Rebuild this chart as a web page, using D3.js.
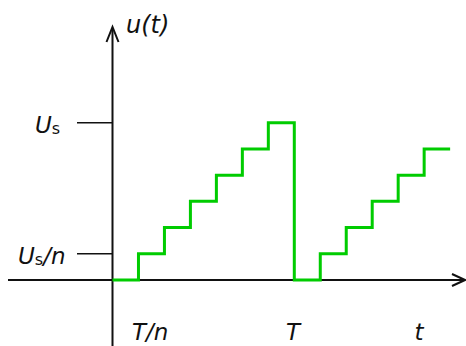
<!DOCTYPE html>
<html>
<head>
<meta charset="utf-8">
<script src="https://cdn.jsdelivr.net/npm/d3@7"></script>
<style>
  html, body { margin: 0; padding: 0; background: #fff; }
  svg { display: block; }
  text { font-family: "DejaVu Sans", sans-serif; font-style: italic; fill: #111; }
</style>
</head>
<body>
<div id="chart"></div>
<script>
// staircase signal, time in units of T/n, level in units of Us/n
const stepTimes = [0, 1, 2, 3, 4, 5, 6, 7, 8, 9, 10, 11, 12, 13]
const stepLevels = [0, 1, 2, 3, 4, 5, 6, 0, 1, 2, 3, 4, 5, 5]

const yTicks = [1, 6]
const yTickLabels = [['U', 's', '/n'], ['U', 's', '']]
const yLabelX = [18, 35]
const xLabelPos = [1.45, 6.95, 11.8]
const xLabels = ['T/n', 'T', 't']

const width = 466
const height = 346

const x = d3.scaleLinear().domain([0, 7]).range([112.5, 294.3])
const y = d3.scaleLinear().domain([0, 6]).range([280, 122.7])

const svg = d3.select('#chart').append('svg')
    .attr('width', width)
    .attr('height', height)

const data = stepTimes.map((t, i) => ({ t: t, v: stepLevels[i] }))

// axes
const axisColor = '#111'
svg.append('line')
    .attr('x1', 8).attr('x2', 464)
    .attr('y1', y(0)).attr('y2', y(0))
    .attr('stroke', axisColor).attr('stroke-width', 2)
svg.append('line')
    .attr('x1', x(0)).attr('x2', x(0))
    .attr('y1', height).attr('y2', 28)
    .attr('stroke', axisColor).attr('stroke-width', 2)

// arrowheads
svg.append('path')
    .attr('d', 'M' + (x(0) - 6) + ',' + 42 + 'L' + x(0) + ',' + 27 + 'L' + (x(0) + 6) + ',' + 42)
    .attr('fill', 'none').attr('stroke', axisColor).attr('stroke-width', 2)
svg.append('path')
    .attr('d', 'M' + 452 + ',' + (y(0) - 6) + 'L' + 465 + ',' + y(0) + 'L' + 452 + ',' + (y(0) + 6))
    .attr('fill', 'none').attr('stroke', axisColor).attr('stroke-width', 2)

// y ticks
svg.selectAll('.ytick')
    .data(yTicks)
    .enter()
    .append('line')
    .attr('class', 'ytick')
    .attr('x1', 77).attr('x2', x(0))
    .attr('y1', d => y(d)).attr('y2', d => y(d))
    .attr('stroke', axisColor).attr('stroke-width', 1.5)

const yLab = svg.selectAll('.ylabel')
    .data(yTicks)
    .enter()
    .append('text')
    .attr('class', 'ylabel')
    .attr('x', (d, i) => yLabelX[i])
    .attr('y', d => y(d) + 10)
    .attr('font-size', 23)
yLab.append('tspan').text((d, i) => yTickLabels[i][0])
yLab.append('tspan')
    .attr('font-style', 'normal')
    .attr('font-size', 16)
    .attr('dy', 1)
    .text((d, i) => yTickLabels[i][1])
yLab.append('tspan')
    .attr('dy', -1)
    .text((d, i) => yTickLabels[i][2])

// x labels
svg.selectAll('.xlabel')
    .data(xLabels)
    .enter()
    .append('text')
    .attr('class', 'xlabel')
    .attr('x', (d, i) => x(xLabelPos[i]))
    .attr('y', 340)
    .attr('text-anchor', 'middle')
    .attr('font-size', 23)
    .text(d => d)

svg.append('text')
    .attr('x', 126)
    .attr('y', 33)
    .attr('font-size', 24)
    .text('u(t)')

// signal
const line = d3.line()
    .x(d => x(d.t))
    .y(d => y(d.v))
    .curve(d3.curveStepAfter)

svg.append('path')
    .datum(data)
    .attr('d', line)
    .attr('fill', 'none')
    .attr('stroke', '#00cc00')
    .attr('stroke-width', 3)
</script>
</body>
</html>
